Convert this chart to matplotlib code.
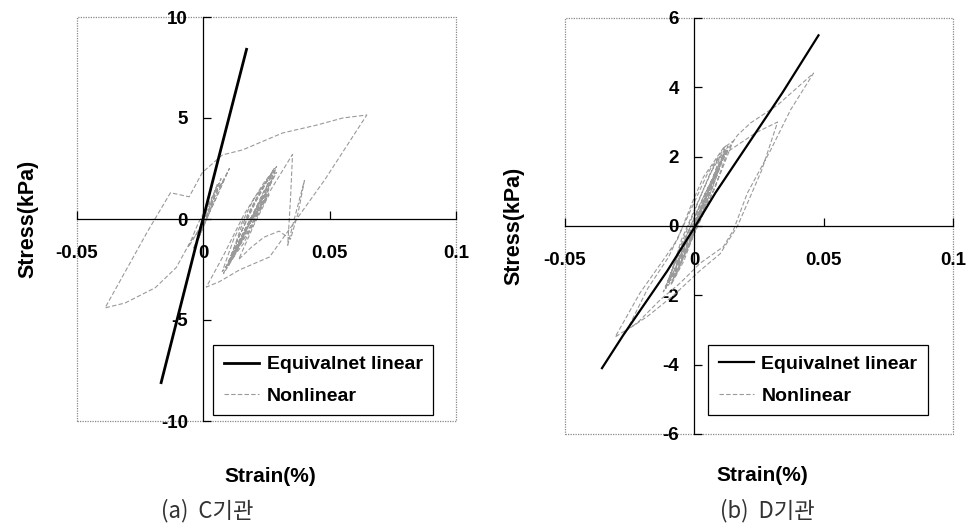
import matplotlib
matplotlib.use("Agg")
import matplotlib.pyplot as plt
from matplotlib.patches import Rectangle

plt.rcParams['font.family'] = ['Liberation Sans', 'Noto Sans CJK KR', 'DejaVu Sans']

# (a) C site
c_eq_strain = [-0.0167, -0.009, -0.0025, 0.0005, 0.006, 0.0171]
c_eq_stress = [-8.1, -4.3, -1.1, 0.3, 3.0, 8.4]

c_nl_strain = [0.000, 0.003, 0.0055, 0.002, -0.003, -0.006, -0.002, 0.004, 0.007, 0.002,
               -0.004, -0.001, 0.005, 0.008, 0.003, -0.002, 0.004, 0.0103, 0.005,
               0.000, -0.005, -0.0107, -0.019, -0.031, -0.0389, -0.030, -0.022, -0.013, -0.0056,
               -0.0004, 0.0075, 0.0155, 0.0314, 0.0449, 0.0552, 0.0647, 0.048, 0.0262, 0.0143,
               0.0064, 0.0012, 0.008, 0.016, 0.024, 0.029, 0.024, 0.016, 0.0075, 0.012,
               0.020, 0.027, 0.022, 0.013, 0.010, 0.015, 0.023, 0.028, 0.025, 0.018,
               0.011, 0.017, 0.026, 0.0353, 0.0345, 0.0334, 0.036, 0.040, 0.0375, 0.0345,
               0.030, 0.024, 0.019, 0.014, 0.020, 0.026, 0.022, 0.017,
               0.009, 0.014, 0.021, 0.028, 0.025, 0.019, 0.012, 0.008, 0.013, 0.019,
               0.026, 0.029, 0.023, 0.016, 0.010, 0.012, 0.018, 0.024, 0.027, 0.021,
               0.015, 0.011, 0.016, 0.022, 0.025, 0.020, 0.018]
c_nl_stress = [0.0, 0.9, 1.7, 0.4, -0.8, -1.4, -0.2, 1.2, 2.0, 0.2,
               -1.5, -0.6, 1.4, 1.9, 0.5, -1.0, 1.0, 2.5, 1.0,
               -0.3, -1.1, -2.4, -3.4, -4.16, -4.4, -2.4, -0.6, 1.3, 1.1,
               2.3, 3.17, 3.42, 4.26, 4.65, 5.0, 5.15, 1.93, -1.88, -2.52,
               -3.1, -3.37, -1.8, 0.2, 1.8, 2.6, 0.8, -1.2, -2.6, -1.0,
               1.0, 2.2, 0.4, -1.6, -2.2, -0.4, 1.5, 2.4, 1.2, -0.6,
               -2.0, -0.5, 1.3, 3.2, 1.0, -1.3, 0.0, 1.9, 0.3, -1.0,
               -0.6, -0.9, -1.4, -2.0, -0.3, 1.2, 0.5, -0.5,
               -2.4, -0.9, 0.9, 2.5, 1.6, 0.0, -1.9, -2.7, -1.2, 0.5,
               2.1, 2.3, 0.9, -0.8, -2.3, -1.6, -0.2, 1.4, 1.9, 0.5,
               -1.1, -1.9, -0.6, 0.8, 1.3, 0.1, 0.0]

# (b) D site
d_eq_strain = [-0.0357, -0.0275, -0.022, -0.0105, 0.0, 0.0081, 0.0283, 0.0341, 0.048]
d_eq_stress = [-4.1, -3.15, -2.55, -1.3, -0.05, 0.95, 3.2, 3.85, 5.5]

d_nl_strain = [0.000, 0.003, 0.007, 0.003, -0.003, -0.007, -0.003, 0.004, 0.010, 0.013,
               0.008, -0.001, -0.009, -0.012, -0.006, 0.002, 0.011, 0.0167, 0.0217, 0.0322,
               0.0461, 0.0372, 0.0295, 0.0205, 0.0151, 0.0112, 0.0023, -0.0054, -0.0132, -0.0221,
               -0.0306, -0.021, -0.012, -0.0066, -0.0004, 0.0035, 0.0112, 0.015, 0.010, 0.002,
               -0.006, -0.011, -0.005, 0.004, 0.012, 0.020, 0.024, 0.0322, 0.026, 0.0167,
               0.010, 0.002, -0.008, -0.018, -0.026, -0.018, -0.010, -0.003, 0.005, 0.012,
               0.008, 0.001, -0.005, -0.009, -0.004, 0.003, 0.009, 0.005, 0.000,
               -0.006, -0.010, -0.005, 0.002, 0.008, 0.012, 0.007, 0.000, -0.007, -0.011,
               -0.006, 0.001, 0.006, 0.010, 0.004, -0.002, -0.008, -0.004, 0.003, 0.009,
               0.013, 0.008, 0.002, -0.004, -0.009, -0.003, 0.004, 0.007, 0.002]
d_nl_stress = [0.00, 0.60, 1.30, 0.30, -0.50, -1.10, -0.40, 0.80, 1.80, 2.20,
               1.10, -0.30, -1.50, -1.90, -0.80, 0.60, 2.00, 2.62, 2.97, 3.49,
               4.41, 3.35, 2.19, 0.95, -0.12, -0.60, -1.07, -1.64, -2.13, -2.80,
               -3.20, -1.93, -0.98, -0.40, 0.75, 1.41, 2.25, 2.45, 1.50, 0.10,
               -1.20, -1.75, -0.60, 0.90, 2.10, 2.50, 2.70, 3.00, 1.60, 0.00,
               -0.80, -1.30, -2.00, -2.60, -3.00, -1.80, -0.90, 0.20, 1.50, 2.30,
               1.40, 0.20, -0.90, -1.50, -0.60, 0.60, 1.60, 0.80, 0.00,
               -1.00, -1.60, -0.40, 0.80, 1.80, 2.20, 1.10, -0.20, -1.40, -1.80,
               -0.70, 0.60, 1.50, 2.00, 0.70, -0.50, -1.50, -0.80, 0.50, 1.70,
               2.30, 1.30, 0.20, -1.00, -1.70, -0.30, 0.90, 1.30, 0.40]

x_ticks = [-0.05, 0, 0.05, 0.1]
x_ticklabels = ['-0.05', '0', '0.05', '0.1']
c_yticks = [-10, -5, 0, 5, 10]
d_yticks = [-6, -4, -2, 0, 2, 4, 6]
labels = ['Equivalnet linear', 'Nonlinear']
captions = ['(a)  C기관', '(b)  D기관']

fig = plt.figure(figsize=(9.66, 5.24), dpi=100)
ax1 = fig.add_axes([77/966, 1 - 421/524, 379/966, 404/524])
ax2 = fig.add_axes([565/966, 1 - 434/524, 388/966, 416/524])


def style(ax, yticks, ylim, leg_xy, ylab_xy, xlab_xy):
    ax.set_xlim(-0.05, 0.1)
    ax.set_ylim(*ylim)
    ax.spines['left'].set_position(('data', 0))
    ax.spines['bottom'].set_position(('data', 0))
    ax.spines['top'].set_visible(False)
    ax.spines['right'].set_visible(False)
    for s in ['left', 'bottom']:
        ax.spines[s].set_linewidth(0.9)
    # dotted plot-area border
    ax.add_patch(Rectangle((0, 0), 1, 1, transform=ax.transAxes, fill=False,
                           ec='#888888', lw=0.9, ls=(0, (1, 1)), clip_on=False, zorder=0))
    ax.set_xticks(x_ticks)
    ax.set_xticklabels(x_ticklabels)
    ax.set_yticks(yticks)
    ax.set_yticklabels([str(v) for v in yticks])
    ax.tick_params(axis='x', direction='in', length=6, width=0.9, pad=19, labelsize=13.5)
    ax.tick_params(axis='y', direction='in', length=6, width=0.9, pad=11, labelsize=13.5)
    for t in ax.get_xticklabels() + ax.get_yticklabels():
        t.set_fontweight('bold')
    ax.set_ylabel('Stress(kPa)', fontsize=15.5, fontweight='bold')
    ax.set_xlabel('Strain(%)', fontsize=15, fontweight='bold')
    ax.yaxis.set_label_coords(*ylab_xy)
    ax.xaxis.set_label_coords(*xlab_xy)
    leg = ax.legend(loc='upper left', bbox_to_anchor=leg_xy, borderaxespad=0,
                    fancybox=False, edgecolor='black', framealpha=1,
                    prop={'weight': 'bold', 'size': 14}, handlelength=1.8,
                    handletextpad=0.4, borderpad=0.55, labelspacing=0.7)
    leg.get_frame().set_linewidth(0.9)


ax1.plot(c_eq_strain, c_eq_stress, color='black', lw=2.0, label=labels[0], zorder=3)
ax1.plot(c_nl_strain, c_nl_stress, color='#9a9a9a', lw=0.8, ls=(0, (4, 2)), label=labels[1], zorder=2)
style(ax1, c_yticks, (-10, 10), (0.359, 0.188), (-0.103, 0.5), (0.509, -0.115))

ax2.plot(d_eq_strain, d_eq_stress, color='black', lw=1.6, label=labels[0], zorder=3)
ax2.plot(d_nl_strain, d_nl_stress, color='#9a9a9a', lw=0.8, ls=(0, (4, 2)), label=labels[1], zorder=2)
style(ax2, d_yticks, (-6, 6), (0.3686, 0.214), (-0.104, 0.5), (0.508, -0.078))

for i, cx in enumerate([207, 767]):
    fig.text(cx/966, 1 - 511/524, captions[i], ha='center', va='center', fontsize=16,
             color='#333333', family=['Noto Sans CJK KR', 'DejaVu Sans'])

fig.savefig('out.png', dpi=100)
